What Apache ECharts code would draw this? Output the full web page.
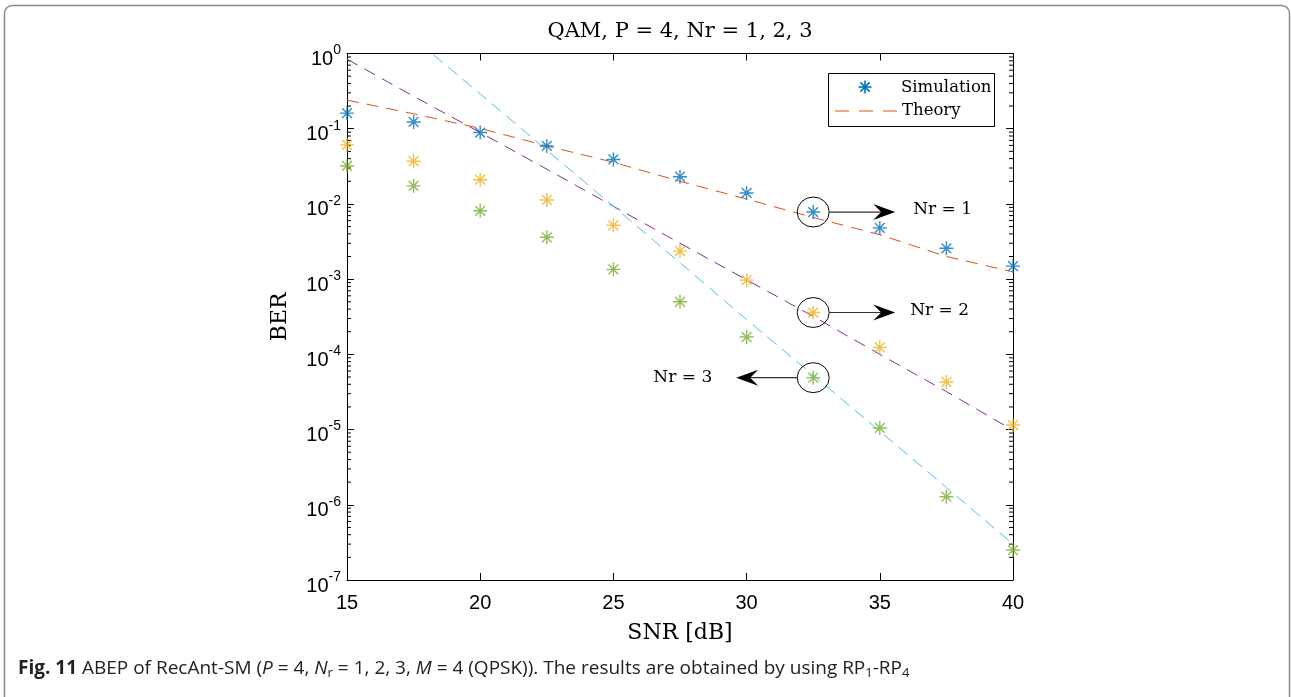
<!DOCTYPE html>
<html><head><meta charset="utf-8">
<script src="https://cdn.jsdelivr.net/npm/echarts@6/dist/echarts.min.js"></script>
<style>html,body{margin:0;padding:0;background:#fff}#c{width:1291px;height:697px}</style>
</head><body><div id="c"></div>
<script>
// ---- data ----
const snr = [15, 17.5, 20, 22.5, 25, 27.5, 30, 32.5, 35, 37.5, 40];
const simNr1 = [0.161, 0.123, 0.089, 0.059, 0.039, 0.023, 0.014, 0.0078, 0.0048, 0.00257, 0.00149];
const simNr2 = [0.061, 0.037, 0.021, 0.0113, 0.0052, 0.00236, 0.00097, 0.00036, 0.000124, 0.000043, 0.0000115];
const simNr3 = [0.032, 0.0174, 0.0081, 0.0036, 0.00135, 0.0005, 0.00017, 0.000049, 0.0000105, 0.00000128, 0.00000025];
const thNr1 = [0.24, 0.158, 0.101, 0.059, 0.0358, 0.020, 0.0116, 0.0066, 0.0039, 0.0020, 0.00125];
const thNr2 = [0.84, 0.27, 0.089, 0.029, 0.0093, 0.0030, 0.00098, 0.00032, 0.0001, 0.000032, 0.0000098];
const thNr3 = [9.3, 1.6, 0.29, 0.052, 0.0093, 0.00165, 0.00029, 0.000053, 0.0000095, 0.0000017, 0.0000003];
const xTicks = [15, 20, 25, 30, 35, 40];
const yDecades = [-7, -6, -5, -4, -3, -2, -1, 0];
const legendNames = ['Simulation', 'Theory'];
const annotations = [
  {label: 'Nr = 1', snr: 32.5, ber: 0.0078, dir: 1},
  {label: 'Nr = 2', snr: 32.5, ber: 0.00036, dir: 1},
  {label: 'Nr = 3', snr: 32.5, ber: 0.000049, dir: -1}
];
const titleText = 'QAM, P = 4, Nr = 1, 2, 3';

// ---- styles ----
const C = {b: '#0072BD', y: '#EDB120', g: '#77AC30', r: '#D95319', p: '#7E2F8E', c: '#4DBEEE'};
const STAR = 'path://M9.1,1L10.9,1L10.9,19L9.1,19ZM1,9.1L19,9.1L19,10.9L1,10.9ZM3.1,4.4L4.4,3.1L16.9,15.6L15.6,16.9ZM15.6,3.1L16.9,4.4L4.4,16.9L3.1,15.6Z';
const serif = '"DejaVu Serif", "Liberation Serif", serif';
const sans = '"Liberation Sans", Arial, sans-serif';
const capFont = '"Open Sans", sans-serif';

const minorTicks = [];
yDecades.forEach(e => { if (e < 0) for (let m = 2; m <= 9; m++) minorTicks.push([15, m * Math.pow(10, e)]); });

function pairs(ys) { return snr.map((x, i) => [x, ys[i]]); }
function sim(name, ys, col) {
  return {type: 'scatter', name: name, data: pairs(ys), symbol: STAR, symbolSize: 14,
    itemStyle: {color: col}, z: 5, silent: true};
}
function th(name, ys, col, dash) {
  return {type: 'line', name: name, data: pairs(ys), showSymbol: false, symbol: 'none', clip: true,
    lineStyle: {color: col, width: 1, type: dash}, z: 3, silent: true};
}

const chart = echarts.init(document.getElementById('c'), null, {renderer: 'canvas'});
const grid = {left: 347, right: 278, top: 53.5, bottom: 117};
const option = {
  animation: false,
  backgroundColor: '#fff',
  grid: grid,
  xAxis: [
    {type: 'value', min: 15, max: 40, interval: 5, position: 'bottom',
      axisLine: {show: true, lineStyle: {color: '#000', width: 1}},
      axisTick: {show: true, inside: true, length: 7, lineStyle: {color: '#000'}},
      axisLabel: {color: '#000', fontFamily: sans, fontSize: 20, margin: 13},
      splitLine: {show: false}},
    {type: 'value', min: 15, max: 40, interval: 5, position: 'top',
      axisLine: {show: true, lineStyle: {color: '#000', width: 1}},
      axisTick: {show: true, inside: true, length: 7, lineStyle: {color: '#000'}},
      axisLabel: {show: false}, splitLine: {show: false}}
  ],
  yAxis: [
    {type: 'log', logBase: 10, min: 1e-7, max: 1, position: 'left',
      axisLine: {show: true, lineStyle: {color: '#000', width: 1}},
      axisTick: {show: true, inside: true, length: 7, lineStyle: {color: '#000'}},
      axisLabel: {color: '#000', margin: 6,
        formatter: v => '{b|10}{s|' + Math.round(Math.log10(v)) + '}',
        rich: {b: {fontFamily: sans, fontSize: 20, color: '#000', padding: [12, 0, 0, 0]},
               s: {fontFamily: sans, fontSize: 14, color: '#000', padding: [0, 0, 6, 0]}}},
      splitLine: {show: false}},
    {type: 'log', logBase: 10, min: 1e-7, max: 1, position: 'right',
      axisLine: {show: true, lineStyle: {color: '#000', width: 1}},
      axisTick: {show: true, inside: true, length: 7, lineStyle: {color: '#000'}},
      axisLabel: {show: false}, splitLine: {show: false}}
  ],
  series: [
    th('Theory', thNr1, C.r, [12, 8]),
    th('Theory2', thNr2, C.p, [12, 8]),
    th('Theory3', thNr3, C.c, [12, 7]),
    sim('Simulation', simNr1, C.b),
    sim('Simulation2', simNr2, C.y),
    sim('Simulation3', simNr3, C.g),
    {type: 'custom', data: minorTicks, silent: true, clip: false, z: 2,
      renderItem: function (params, api) {
        const y = api.coord([15, api.value(1)])[1];
        const cs = params.coordSys;
        return {type: 'group', children: [
          {type: 'line', shape: {x1: cs.x, y1: y, x2: cs.x + 4, y2: y}, style: {stroke: '#000', lineWidth: 1}},
          {type: 'line', shape: {x1: cs.x + cs.width - 4, y1: y, x2: cs.x + cs.width, y2: y}, style: {stroke: '#000', lineWidth: 1}}
        ]};
      }}
  ]
};
chart.setOption(option);

// ---- graphics: frame, title, axis names, legend, annotations, caption ----
const gx = grid.left, gw = 1291 - grid.left - grid.right, gy = grid.top, gh = 697 - grid.top - grid.bottom;
const g = [];
g.push({type: 'rect', shape: {x: 4.5, y: 5.5, width: 1285, height: 720, r: 8}, style: {fill: 'none', stroke: '#8a8a8a', lineWidth: 1.5}, z: 0, silent: true});
g.push({type: 'text', x: gx + gw / 2, y: 32, style: {text: titleText, font: '21px ' + serif, fill: '#000', textAlign: 'center', textVerticalAlign: 'middle'}});
g.push({type: 'text', x: gx + gw / 2, y: 633, style: {text: 'SNR [dB]', font: '22px ' + serif, fill: '#000', textAlign: 'center', textVerticalAlign: 'middle'}});
g.push({type: 'text', x: 280, y: gy + gh / 2, rotation: Math.PI / 2, style: {text: 'BER', font: '22px ' + serif, fill: '#000', textAlign: 'center', textVerticalAlign: 'middle'}});
// legend
g.push({type: 'rect', shape: {x: 828.5, y: 73.5, width: 166, height: 53}, style: {fill: '#fff', stroke: '#000', lineWidth: 1}, z: 10});
(function () {
  const sx = 865, sy = 87, r = 6.5, d = 4.6;
  const segs = [[sx, sy - r, sx, sy + r], [sx - r, sy, sx + r, sy], [sx - d, sy - d, sx + d, sy + d], [sx - d, sy + d, sx + d, sy - d]];
  segs.forEach(s => g.push({type: 'line', shape: {x1: s[0], y1: s[1], x2: s[2], y2: s[3]}, style: {stroke: C.b, lineWidth: 1.6}, z: 11}));
})();
g.push({type: 'line', shape: {x1: 835, y1: 111, x2: 897, y2: 111}, style: {stroke: C.r, lineWidth: 1, lineDash: [14, 10]}, z: 11});
g.push({type: 'text', x: 901, y: 87.5, style: {text: legendNames[0], font: '16.5px ' + serif, fill: '#000', textVerticalAlign: 'middle'}, z: 11});
g.push({type: 'text', x: 902, y: 110.5, style: {text: legendNames[1], font: '16.5px ' + serif, fill: '#000', textVerticalAlign: 'middle'}, z: 11});
// annotations
annotations.forEach(a => {
  const p = chart.convertToPixel({xAxisIndex: 0, yAxisIndex: 0}, [a.snr, a.ber]);
  const cx = p[0], cy = p[1];
  g.push({type: 'circle', x: cx, y: cy, scaleY: 15 / 16, shape: {cx: 0, cy: 0, r: 16}, style: {fill: 'none', stroke: '#000', lineWidth: 1}, z: 12});
  const x0 = cx + a.dir * 16, tip = cx + a.dir * (a.dir > 0 ? 82 : 77);
  g.push({type: 'line', shape: {x1: x0, y1: cy, x2: tip - a.dir * 12, y2: cy}, style: {stroke: '#333', lineWidth: 1.2}, z: 12});
  g.push({type: 'polygon', shape: {points: [[tip, cy], [tip - a.dir * 22, cy - 8], [tip - a.dir * 14, cy], [tip - a.dir * 22, cy + 8]]}, style: {fill: '#000'}, z: 12});
  if (a.dir > 0) {
    g.push({type: 'text', x: tip + (a.label === 'Nr = 1' ? 18 : 15), y: cy - 2, style: {text: a.label, font: '17px ' + serif, fill: '#000', textVerticalAlign: 'middle'}, z: 12});
  } else {
    g.push({type: 'text', x: tip - 24, y: cy, style: {text: a.label, font: '17px ' + serif, fill: '#000', textAlign: 'right', textVerticalAlign: 'middle'}, z: 12});
  }
});
// caption
g.push({type: 'text', x: 18, y: 669, style: {
  text: '{bo|Fig. 11} ABEP of RecAnt-SM ({it|P} = 4, {it|N}{sub|r} = 1, 2, 3, {it|M} = 4 (QPSK)). The results are obtained by using RP{sub|1}-RP{sub|4}',
  font: '19px ' + capFont, fill: '#222', textVerticalAlign: 'middle',
  rich: {
    bo: {fontFamily: capFont, fontSize: 19, fontWeight: 'bold', fill: '#222'},
    it: {fontFamily: capFont, fontSize: 19, fontStyle: 'italic', fill: '#222'},
    sub: {fontFamily: capFont, fontSize: 13, fill: '#222', padding: [9, 0, 0, 0]}
  }}});
chart.setOption({graphic: {elements: g}});
</script>
</body></html>
